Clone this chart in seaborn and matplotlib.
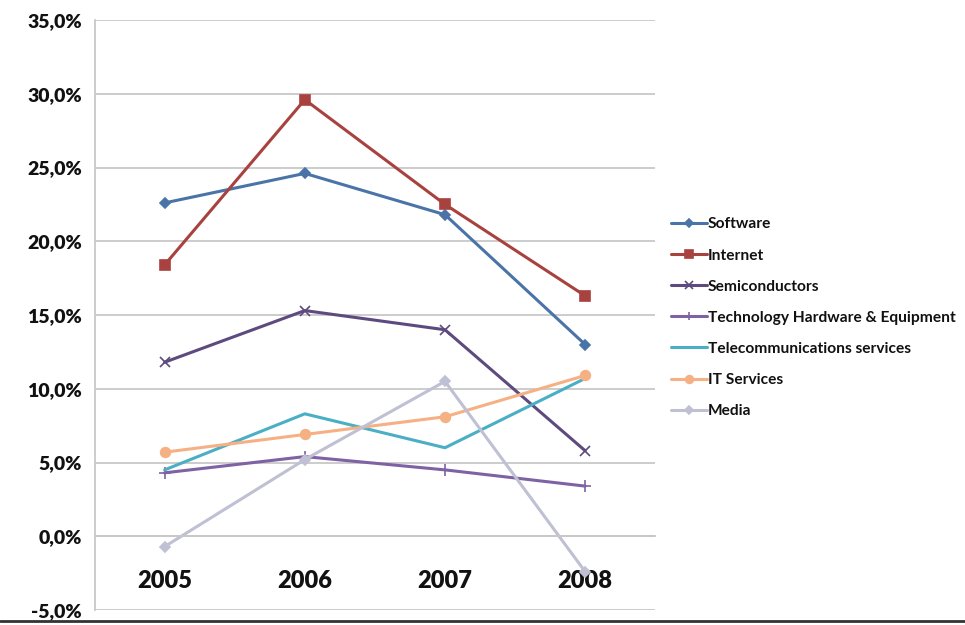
import matplotlib
matplotlib.use("Agg")
import numpy as np
import pandas as pd
import seaborn as sns
from matplotlib import pyplot as plt
from matplotlib.ticker import FuncFormatter, FixedLocator

years = ["2005", "2006", "2007", "2008"]
software = [22.6, 24.6, 21.8, 13.0]
internet = [18.4, 29.6, 22.5, 16.3]
semiconductors = [11.8, 15.3, 14.0, 5.8]
tech_hardware = [4.3, 5.4, 4.5, 3.4]
telecom = [4.5, 8.3, 6.0, 10.7]
it_services = [5.7, 6.9, 8.1, 10.9]
media = [-0.7, 5.2, 10.5, -2.4]

series = [
    ("Software", software, "#4A74A8", "D", 5),
    ("Internet", internet, "#A8423F", "s", 7),
    ("Semiconductors", semiconductors, "#5D4A7E", "x", 7),
    ("Technology Hardware & Equipment", tech_hardware, "#7E62A3", "+", 8),
    ("Telecommunications services", telecom, "#4AAFC4", None, 0),
    ("IT Services", it_services, "#F5B084", "o", 7),
    ("Media", media, "#BFC0D3", "D", 5),
]

sns.set_style("white")
plt.rcParams["font.family"] = ["Lato", "DejaVu Sans"]

fig = plt.figure(figsize=(9.65, 6.25), dpi=100)
ax = fig.add_axes([0.098, 0.024, 0.581, 0.944])

x = np.arange(len(years))
for name, vals, color, marker, ms in series:
    df = pd.DataFrame({"x": x, "v": vals})
    kw = {}
    if marker:
        kw = dict(marker=marker, markersize=ms, markeredgecolor=color,
                  markerfacecolor=color, markeredgewidth=1.2)
    sns.lineplot(data=df, x="x", y="v", color=color, linewidth=2.2,
                 label=name, ax=ax, **kw)

ax.set_xlim(-0.5, 3.5)
ax.set_ylim(-5, 35)
ax.set_yticks(np.arange(-5, 36, 5))
ax.yaxis.set_major_formatter(FuncFormatter(lambda v, p: f"{v:.1f}%".replace(".", ",")))
ax.grid(axis="y", color="#c8c8c8", linewidth=1.3)
ax.set_axisbelow(True)

for s in ["top", "right"]:
    ax.spines[s].set_visible(False)
ax.spines["left"].set_color("#c8c8c8")
ax.spines["left"].set_linewidth(1.3)
ax.spines["bottom"].set_position(("data", 0))
ax.spines["bottom"].set_color("#c8c8c8")
ax.spines["bottom"].set_linewidth(1.3)

ax.xaxis.set_major_locator(FixedLocator(x))
ax.set_xticklabels(years)
ax.xaxis.set_minor_locator(FixedLocator(list(x + 0.5)))
ax.tick_params(axis="x", which="major", length=0, pad=24, labelsize=17)
ax.tick_params(axis="x", which="minor", length=7, width=1.3, color="#c8c8c8", direction="out")
ax.tick_params(axis="y", length=7, width=1.3, color="#c8c8c8", labelsize=14, pad=2)
for lab in ax.get_xticklabels() + ax.get_yticklabels():
    lab.set_fontweight("heavy")
    lab.set_color("#111111")
ax.set_xlabel("")
ax.set_ylabel("")

leg = ax.legend(loc="upper left", bbox_to_anchor=(0.689, 0.662), bbox_transform=fig.transFigure,
                frameon=False, fontsize=11.2, handlelength=2.3, handletextpad=0.05,
                labelspacing=1.1, borderaxespad=0, markerscale=0.8)
for t in leg.get_texts():
    t.set_fontweight("bold")
    t.set_color("#111111")

fig.add_artist(plt.Line2D([0, 1], [0.006, 0.006], transform=fig.transFigure,
                          color="#333333", linewidth=2))

fig.savefig("out.png", dpi=100)
